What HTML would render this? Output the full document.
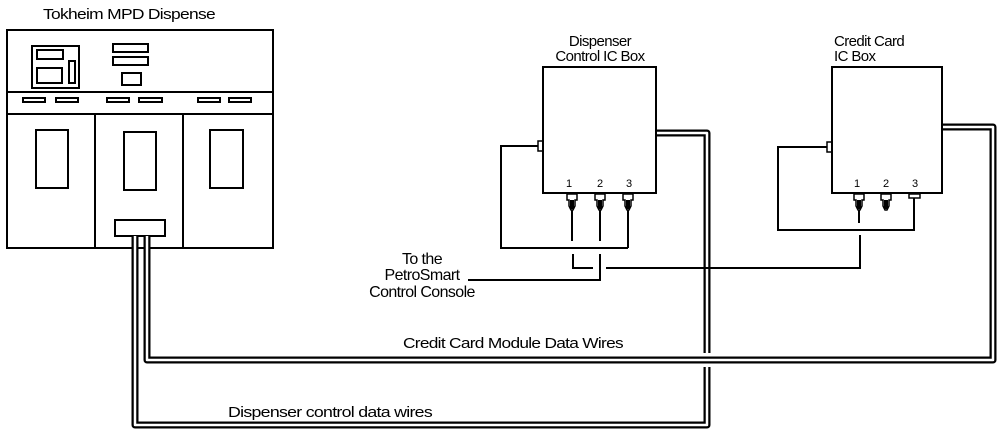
<!DOCTYPE html>
<html><head><style>
html,body{margin:0;padding:0;background:#fff;}
svg{display:block;}
text{font-family:"Liberation Sans",Arial,sans-serif;fill:#000;}
</style></head><body>
<svg width="1008" height="440" viewBox="0 0 1008 440" xmlns="http://www.w3.org/2000/svg">
<g fill="none" stroke="#000" stroke-width="2">
<rect x="7" y="30" width="266" height="218"/>
<line x1="7" y1="92" x2="273" y2="92"/>
<line x1="7" y1="114" x2="273" y2="114"/>
<line x1="95" y1="114" x2="95" y2="248"/>
<line x1="183" y1="114" x2="183" y2="248"/>
<rect x="32" y="46" width="47" height="42"/>
<rect x="37" y="50" width="26" height="9"/>
<rect x="37" y="68" width="25" height="15"/>
<rect x="69" y="61" width="6" height="22"/>
<rect x="113" y="44" width="35" height="8"/>
<rect x="113" y="57" width="35" height="8"/>
<rect x="122" y="73" width="19" height="12"/>
<rect x="23" y="98" width="22" height="4"/>
<rect x="56" y="98" width="22" height="4"/>
<rect x="107" y="98" width="22" height="4"/>
<rect x="139" y="98" width="23" height="4"/>
<rect x="198" y="98" width="22" height="4"/>
<rect x="229" y="98" width="22" height="4"/>
<rect x="36" y="130" width="32" height="58"/>
<rect x="124" y="132" width="32" height="58"/>
<rect x="210" y="130" width="33" height="58"/>
<rect x="115" y="220" width="50" height="16"/>
</g>
<g fill="none" stroke-linejoin="round">
<polyline points="135,236 135,425 707,425 707,133 656,133" stroke="#000" stroke-width="7"/>
<polyline points="135,236 135,425 707,425 707,133 656,133" stroke="#fff" stroke-width="2.5"/>
<polyline points="148,356 148,360 993,360 993,127" stroke="#fff" stroke-width="14"/>
<polyline points="147,236 147,360 993,360 993,127 942,127" stroke="#000" stroke-width="7"/>
<polyline points="147,236 147,360 993,360 993,127 942,127" stroke="#fff" stroke-width="2.5"/>
</g>
<g fill="none" stroke="#000" stroke-width="2">
<rect x="543" y="67" width="113" height="126"/>
<polyline points="538,146 501,146 501,248 628,248"/>
<rect x="538" y="141" width="5" height="10" stroke-width="1.5"/>
<line x1="572" y1="210" x2="572" y2="241"/>
<line x1="600" y1="210" x2="600" y2="241"/>
<line x1="628" y1="210" x2="628" y2="248"/>
<polyline points="573,254 573,268 593,268"/>
<polyline points="606,268 860,268 860,235"/>
<polyline points="600,254 600,280 468,280"/>
<rect x="832" y="67" width="110" height="126"/>
<polyline points="827,147 778,147 778,230 914,230 914,198"/>
<rect x="827" y="142" width="5" height="10" stroke-width="1.5"/>
<line x1="859" y1="210" x2="859" y2="223"/>
<rect x="909" y="194" width="11" height="4" stroke-width="1.5"/>
</g>
<g fill="#fff" stroke="#000" stroke-width="1.5">
<path d="M567,194 h10 v6 h-2 v6 l-2,4 h-2 l-2,-4 v-6 h-2z"/>
<path d="M595,194 h10 v6 h-2 v6 l-2,4 h-2 l-2,-4 v-6 h-2z"/>
<path d="M623,194 h10 v6 h-2 v6 l-2,4 h-2 l-2,-4 v-6 h-2z"/>
<path d="M854,194 h10 v6 h-2 v6 l-2,4 h-2 l-2,-4 v-6 h-2z"/>
<path d="M881,194 h10 v6 h-2 v6 l-2,4 h-2 l-2,-4 v-6 h-2z"/>
</g>
<g fill="#000">
<rect x="570" y="200" width="4" height="9"/>
<rect x="598" y="200" width="4" height="9"/>
<rect x="626" y="200" width="4" height="9"/>
<rect x="857" y="200" width="4" height="9"/>
<rect x="884" y="200" width="4" height="9"/>
</g>
<g font-size="15" letter-spacing="-0.6">
<text x="43" y="19" textLength="172" lengthAdjust="spacingAndGlyphs">Tokheim MPD Dispense</text>
<text x="600" y="46" text-anchor="middle">Dispenser</text>
<text x="600" y="61" text-anchor="middle">Control IC Box</text>
<text x="834" y="46">Credit Card</text>
<text x="834" y="61">IC Box</text>
<text x="422" y="264" text-anchor="middle" font-size="16">To the</text>
<text x="422" y="280" text-anchor="middle" font-size="16">PetroSmart</text>
<text x="422" y="297" text-anchor="middle" font-size="16">Control Console</text>
<text x="403" y="348" textLength="220" lengthAdjust="spacingAndGlyphs">Credit Card Module Data Wires</text>
<text x="228" y="417" textLength="204" lengthAdjust="spacingAndGlyphs">Dispenser control data wires</text>
</g>
<g font-size="11">
<text x="569" y="187" text-anchor="middle">1</text>
<text x="600" y="187" text-anchor="middle">2</text>
<text x="629" y="187" text-anchor="middle">3</text>
<text x="857" y="187" text-anchor="middle">1</text>
<text x="886" y="187" text-anchor="middle">2</text>
<text x="915" y="187" text-anchor="middle">3</text>
</g>
</svg>
</body></html>
